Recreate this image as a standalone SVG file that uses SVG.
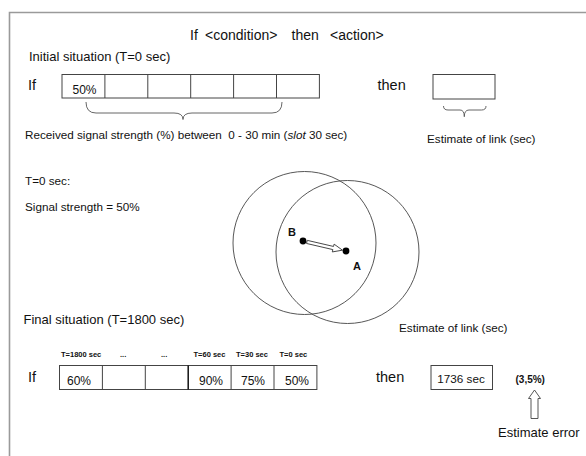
<svg xmlns="http://www.w3.org/2000/svg" width="586" height="456" viewBox="0 0 586 456">
<style>
text{font-family:"Liberation Sans",Arial,sans-serif;fill:#111}
.t14{font-size:14px}
.t13{font-size:13px}
.t12{font-size:11.7px}
.pc{font-size:12px}
.big{font-size:14.5px}
.sm{font-size:7.5px;font-weight:bold}
.err{font-size:10px;font-weight:bold}
.lbl{font-size:11px;font-weight:bold}
.box{fill:#fff;stroke:#444;stroke-width:1}
.ln{fill:none;stroke:#444;stroke-width:1}
.brace{fill:none;stroke:#555;stroke-width:0.9}
.circ{fill:none;stroke:#444;stroke-width:0.9}
.hollow{fill:#fff;stroke:#444;stroke-width:0.9;stroke-linejoin:miter}
</style>
<rect width="586" height="456" fill="#fff"/>
<path d="M9.5,460 V12.5 H590" fill="none" stroke="#9a9a9a" stroke-width="1.6"/>

<g id="title">
<text class="t14" y="40"><tspan x="190">If</tspan><tspan x="205">&lt;condition&gt;</tspan><tspan x="291.5">then</tspan><tspan x="330">&lt;action&gt;</tspan></text>
</g>

<g id="initial-situation">
<text class="t13" x="29" y="60.5">Initial situation (T=0 sec)</text>
<text class="big" x="28" y="90">If</text>
<rect class="box" x="62" y="74.5" width="257.4" height="23.5"/>
<path class="ln" d="M104.9,74.5V98M147.8,74.5V98M190.7,74.5V98M233.6,74.5V98M276.5,74.5V98"/>
<text class="pc" x="72.5" y="93.7">50%</text>
<path class="brace" d="M86,102 Q86,113 96,113 L174,113 Q183,113 183,119.5 Q183,113 192,113 L272,113 Q282,113 282,102"/>
<text class="t12" x="25" y="139" xml:space="preserve">Received signal strength (%) between  0 - 30 min (<tspan font-style="italic">slot</tspan> 30 sec)</text>
</g>

<g id="initial-action">
<text class="big" x="377.5" y="90">then</text>
<rect class="box" x="433" y="74.5" width="62" height="24.5"/>
<path class="brace" d="M443.5,106 Q443.5,110 448,110 L460,110 Q464.3,110 464.3,116.7 Q464.3,110 469,110 L481.5,110 Q486,110 486,106"/>
<text class="t12" x="427" y="143">Estimate of link (sec)</text>
</g>

<g id="t0-info">
<text class="t12" x="25" y="185">T=0 sec:</text>
<text class="t12" x="25" y="211">Signal strength = 50%</text>
</g>

<g id="coverage">
<circle class="circ" cx="304.5" cy="243" r="71.5"/>
<circle class="circ" cx="347.5" cy="252" r="71.5"/>
<polygon class="hollow" transform="translate(303,241) rotate(13.1)" points="4,-1.6 31,-1.6 31,-4 40.5,0 31,4 31,1.6 4,1.6"/>
<circle cx="303" cy="241" r="3.4" fill="#000"/>
<circle cx="346" cy="251" r="3.4" fill="#000"/>
<text class="lbl" x="288" y="236">B</text>
<text class="lbl" x="353" y="269.5">A</text>
</g>

<g id="final-situation">
<text class="t13" x="23.5" y="323.5">Final situation (T=1800 sec)</text>
<text class="sm" x="61" y="357">T=1800 sec</text>
<text class="sm" x="120" y="357">...</text>
<text class="sm" x="161" y="357">...</text>
<text class="sm" x="193.5" y="357">T=60 sec</text>
<text class="sm" x="236" y="357">T=30 sec</text>
<text class="sm" x="279.5" y="357">T=0 sec</text>
<text class="big" x="28" y="382">If</text>
<rect class="box" x="59.5" y="365.5" width="257.4" height="24"/>
<path class="ln" d="M102.4,365.5V389.5M145.3,365.5V389.5M231.1,365.5V389.5M274,365.5V389.5"/>
<path d="M188.2,365.5V389.5" stroke="#111" stroke-width="1.5"/>
<text class="pc" x="67" y="385">60%</text>
<text class="pc" x="199" y="385">90%</text>
<text class="pc" x="241" y="385">75%</text>
<text class="pc" x="285" y="385">50%</text>
</g>

<g id="final-action">
<text class="t12" x="399" y="332">Estimate of link (sec)</text>
<text class="big" x="376" y="382">then</text>
<rect class="box" x="431" y="365.5" width="61.5" height="24"/>
<text class="t12" x="437.3" y="383.3">1736 sec</text>
<text class="err" x="515.5" y="383.3">(3,5%)</text>
</g>

<g id="connectors">
<polygon class="hollow" points="534.5,390 540.5,398.5 538,398.5 538,418.5 531,418.5 531,398.5 528.5,398.5"/>
</g>

<g id="estimate-error">
<text class="t13" x="498" y="437">Estimate error</text>
</g>
</svg>
